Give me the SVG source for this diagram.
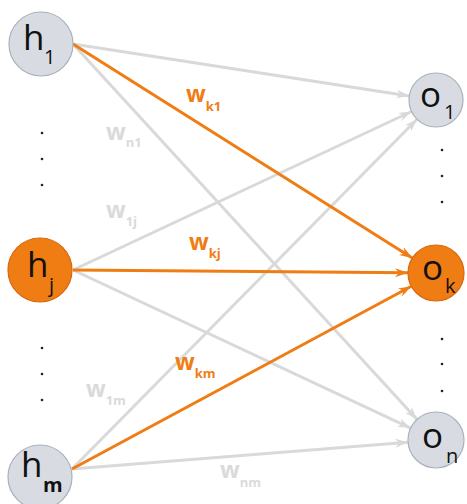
<svg xmlns="http://www.w3.org/2000/svg" width="467" height="504" viewBox="0 0 467 504">
<defs>
<marker id="ag" markerUnits="userSpaceOnUse" markerWidth="14" markerHeight="10" refX="13" refY="5" orient="auto"><path d="M0,0.5 L13,5 L0,9.5 L4,5 Z" fill="#d9d9d9"/></marker>
<marker id="ao" markerUnits="userSpaceOnUse" markerWidth="14" markerHeight="10" refX="13" refY="5" orient="auto"><path d="M0,0.5 L13,5 L0,9.5 L4,5 Z" fill="#ef7d14"/></marker>
<style>
.g{stroke:#d9d9d9;stroke-width:3;fill:none;marker-end:url(#ag)}
.o{stroke:#ef7d14;stroke-width:3;fill:none;marker-end:url(#ao)}
.ng{fill:#d8dce2;stroke:#a9b1bc;stroke-width:1.2}
.no{fill:#ef7d14;stroke:#d5690c;stroke-width:1.2}
.big{font-family:"Open Sans","DejaVu Sans",sans-serif;font-size:35px;fill:#111}
.sub{font-family:"Open Sans","DejaVu Sans",sans-serif;font-size:20px;fill:#111}
.wo{font-family:"Open Sans","DejaVu Sans",sans-serif;font-weight:bold;font-size:23px;fill:#ef7d14}
.wos{font-family:"Open Sans","DejaVu Sans",sans-serif;font-weight:bold;font-size:13px;fill:#ef7d14}
.wg{font-family:"Open Sans","DejaVu Sans",sans-serif;font-weight:bold;font-size:23px;fill:#dadada}
.wgs{font-family:"Open Sans","DejaVu Sans",sans-serif;font-weight:bold;font-size:13px;fill:#dadada}
.dot{fill:#222}
</style>
</defs>
<g id="connectors">
<line class="g" x1="73" y1="44" x2="409.3" y2="95.9"/>
<line class="g" x1="73" y1="44" x2="417.1" y2="419.4"/>
<line class="g" x1="73" y1="270" x2="411.5" y2="111.5"/>
<line class="g" x1="73" y1="270" x2="410.6" y2="428.1"/>
<line class="g" x1="72" y1="469" x2="417.0" y2="119.2"/>
<line class="g" x1="72" y1="469" x2="408.1" y2="442.2"/>
<line class="o" x1="73" y1="44" x2="412.3" y2="258.1"/>
<line class="o" x1="73" y1="270" x2="408" y2="272.8"/>
<line class="o" x1="72" y1="469" x2="411.3" y2="286.3"/>
</g>
<g id="weights">
<text class="wo" x="186" y="102">w<tspan class="wos" dy="9">k1</tspan></text>
<text class="wg" x="106" y="140">w<tspan class="wgs" dy="7">n1</tspan></text>
<text class="wg" x="106" y="218">w<tspan class="wgs" dy="8">1j</tspan></text>
<text class="wo" x="189" y="250">w<tspan class="wos" dy="8">kj</tspan></text>
<text class="wo" x="175" y="370">w<tspan class="wos" dy="8">km</tspan></text>
<text class="wg" x="86" y="397">w<tspan class="wgs" dy="8">1m</tspan></text>
<text class="wg" x="220" y="478">w<tspan class="wgs" dy="9">nm</tspan></text>
</g>
<g id="h1"><circle class="ng" cx="41" cy="44" r="32"/><text class="big" x="23" y="50">h</text><text class="sub" x="44" y="64">1</text></g>
<g id="hj"><circle class="no" cx="40" cy="270" r="32"/><text class="big" x="27" y="277">h</text><text class="sub" x="49" y="292">j</text></g>
<g id="hm"><circle class="ng" cx="40" cy="477" r="32"/><text class="big" x="21" y="477">h</text><text class="sub" x="43" y="492" font-weight="bold">m</text></g>
<g id="o1"><circle class="ng" cx="436" cy="100" r="27"/><text class="big" x="420" y="107">o</text><text class="sub" x="444" y="119">1</text></g>
<g id="ok"><circle class="no" cx="436" cy="273" r="28"/><text class="big" x="422" y="280">o</text><text class="sub" x="445" y="293">k</text></g>
<g id="on"><circle class="ng" cx="436" cy="440" r="28"/><text class="big" x="422" y="448">o</text><text class="sub" x="446" y="463">n</text></g>
<g id="dots">
<circle class="dot" cx="42" cy="133" r="1.3"/><circle class="dot" cx="42" cy="159" r="1.3"/><circle class="dot" cx="42" cy="185" r="1.3"/>
<circle class="dot" cx="42" cy="348" r="1.3"/><circle class="dot" cx="42" cy="374" r="1.3"/><circle class="dot" cx="42" cy="400" r="1.3"/>
<circle class="dot" cx="442" cy="150" r="1.3"/><circle class="dot" cx="442" cy="176" r="1.3"/><circle class="dot" cx="442" cy="202" r="1.3"/>
<circle class="dot" cx="442" cy="339" r="1.3"/><circle class="dot" cx="442" cy="364" r="1.3"/><circle class="dot" cx="442" cy="391" r="1.3"/>
</g>
</svg>
